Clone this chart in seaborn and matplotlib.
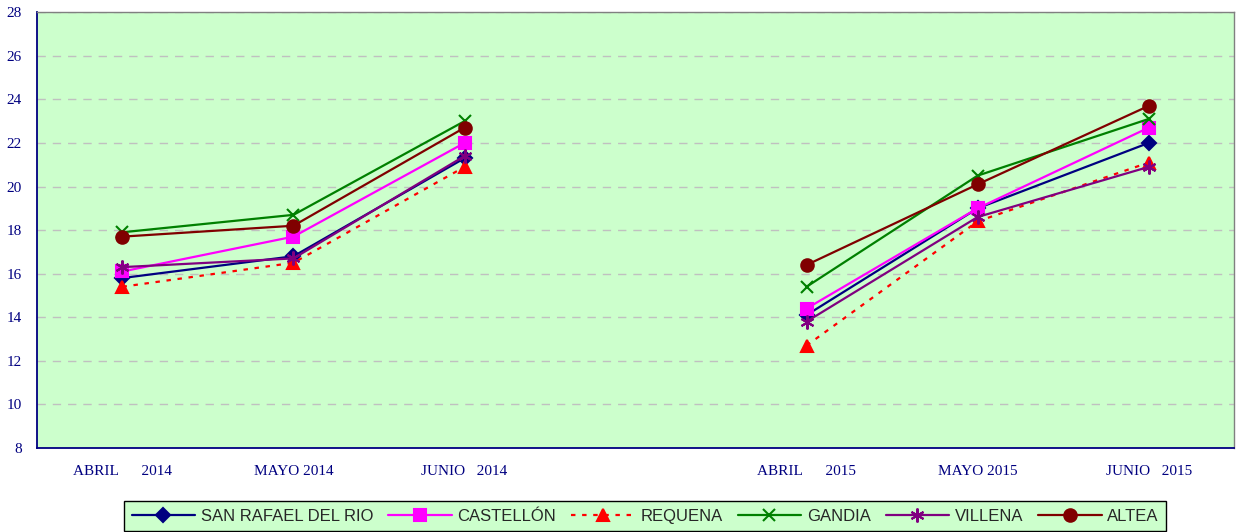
import numpy as np
import pandas as pd
import matplotlib.pyplot as plt
import seaborn as sns

months = ["ABRIL      2014", "MAYO 2014", "JUNIO   2014", "",
          "ABRIL      2015", "MAYO 2015", "JUNIO   2015"]
x_2014 = [0, 1, 2]
x_2015 = [4, 5, 6]

san_rafael = [15.8, 16.8, 21.3, 14.1, 19.0, 22.0]
castellon = [16.1, 17.7, 22.0, 14.4, 19.0, 22.7]
requena = [15.4, 16.5, 20.9, 12.7, 18.4, 21.1]
gandia = [17.9, 18.7, 23.0, 15.4, 20.5, 23.1]
villena = [16.3, 16.7, 21.4, 13.8, 18.6, 20.9]
altea = [17.7, 18.2, 22.7, 16.4, 20.1, 23.7]

names = ["SAN RAFAEL DEL RIO", "CASTELLÓN", "REQUENA", "GANDIA", "VILLENA", "ALTEA"]
series = [san_rafael, castellon, requena, gandia, villena, altea]
colors = ["#000080", "#FF00FF", "#FF0000", "#008000", "#800080", "#800000"]
markers = ["D", "s", "^", "x", (6, 2, 0), "o"]
msizes = [7, 9, 9, 9, 10, 9]
styles = ["-", "-", (0, (2, 3)), "-", "-", "-"]

rows = []
for name, vals in zip(names, series):
    for i, x in enumerate(x_2014 + x_2015):
        rows.append({"station": name, "x": x, "temp": vals[i],
                     "year": 2014 if i < 3 else 2015})
df = pd.DataFrame(rows)

sns.set_style("white")
fig = plt.figure(figsize=(12.36, 5.32), dpi=100)
ax = fig.add_axes([0.0299, 0.158, 0.9686, 0.819])
ax.set_facecolor("#CCFFCC")

for name, c, m, ms, ls in zip(names, colors, markers, msizes, styles):
    for yr in [2014, 2015]:
        sub = df[(df.station == name) & (df.year == yr)]
        sns.lineplot(data=sub, x="x", y="temp", ax=ax, color=c, marker=m,
                     markersize=ms, linestyle=ls, linewidth=1.6,
                     markeredgecolor=c, markeredgewidth=1.5,
                     label=name if yr == 2014 else None, legend=False)

ax.set_xlim(-0.5, 6.5)
ax.set_ylim(8, 28)
ax.set_yticks(np.arange(8, 29, 2))
ax.set_xticks(np.arange(-0.5, 7, 1))
ax.set_xticklabels([])
ax.set_xticks(np.arange(0, 7), minor=True)
ax.set_xticklabels(months, minor=True)
ax.tick_params(axis="x", which="minor", length=0, pad=12)
ax.tick_params(axis="x", which="major", length=5, color="#000080", direction="out")
ax.tick_params(axis="y", length=5, color="#000080", direction="out", pad=6)
for lab in ax.get_xticklabels(minor=True) + ax.get_yticklabels():
    lab.set_fontfamily("Liberation Serif")
    lab.set_color("#000080")
    lab.set_fontsize(11)
ax.set_xlabel("")
ax.set_ylabel("")
ax.grid(axis="y", color="#C0C0C0", linestyle=(0, (6, 5)), linewidth=1)
for s in ["left", "bottom"]:
    ax.spines[s].set_color("#000080")
    ax.spines[s].set_linewidth(1.3)
for s in ["top", "right"]:
    ax.spines[s].set_color("#808080")
    ax.spines[s].set_linewidth(1.0)

handles, labels = ax.get_legend_handles_labels()
leg = fig.legend(handles, labels, loc="upper center", ncol=6,
                 bbox_to_anchor=(0.522, 0.073), frameon=True, fancybox=False,
                 prop={"family": "Liberation Sans", "size": 12},
                 handlelength=3.8, handletextpad=0.35, columnspacing=0.9,
                 borderpad=0.45)
leg.get_frame().set_facecolor("#CCFFCC")
leg.get_frame().set_edgecolor("black")
leg.get_frame().set_alpha(1)

fig.savefig("out.png", dpi=100)
